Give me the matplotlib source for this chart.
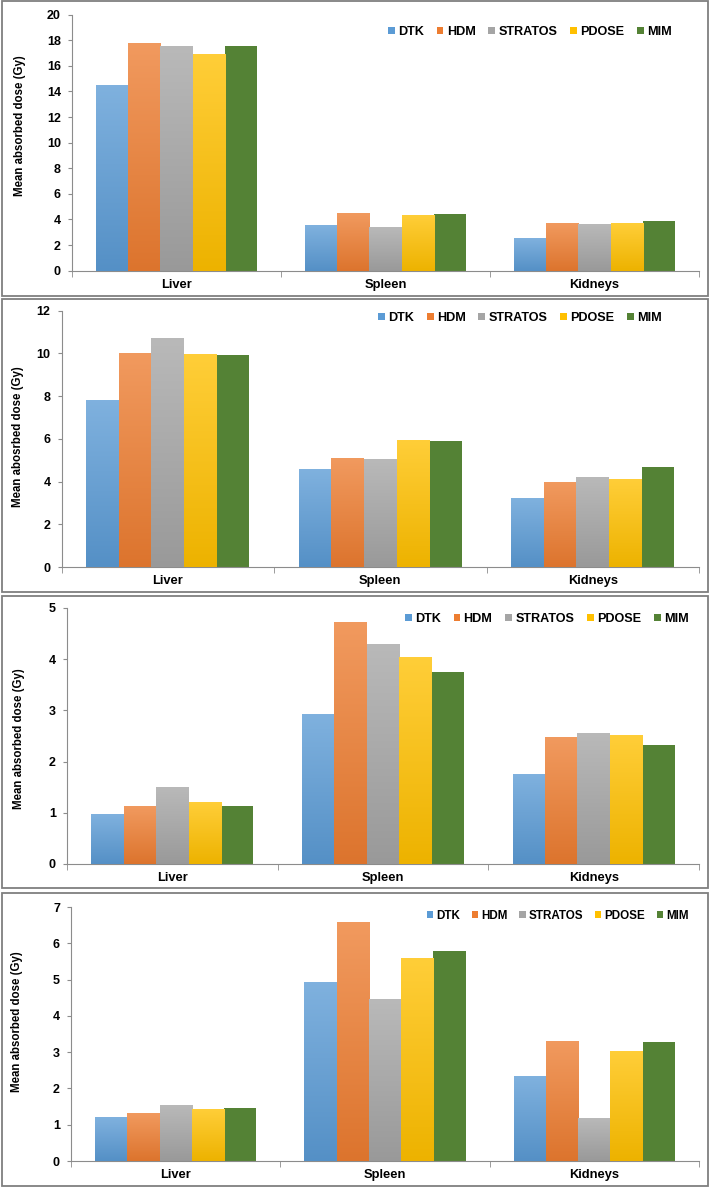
import matplotlib
matplotlib.use("Agg")
import matplotlib.pyplot as plt
import numpy as np
from matplotlib.colors import to_rgb
from matplotlib.patches import Patch, Rectangle

plt.rcParams['font.family'] = ['Liberation Sans', 'DejaVu Sans']
plt.rcParams['font.weight'] = 'bold'

organs = ["Liver", "Spleen", "Kidneys"]
methods = ["DTK", "HDM", "STRATOS", "PDOSE", "MIM"]
colors = ["#5b9bd5", "#ed7d31", "#a5a5a5", "#ffc000", "#548235"]

# valeurs (Gy), une liste par methode
p1_dtk = [14.5, 3.55, 2.55]
p1_hdm = [17.75, 4.48, 3.7]
p1_stratos = [17.52, 3.4, 3.63]
p1_pdose = [16.92, 4.33, 3.7]
p1_mim = [17.52, 4.4, 3.85]

p2_dtk = [7.8, 4.58, 3.23]
p2_hdm = [9.99, 5.08, 3.97]
p2_stratos = [10.69, 5.03, 4.19]
p2_pdose = [9.94, 5.91, 4.11]
p2_mim = [9.94, 5.88, 4.67]

p3_dtk = [0.96, 2.92, 1.75]
p3_hdm = [1.13, 4.72, 2.47]
p3_stratos = [1.49, 4.28, 2.54]
p3_pdose = [1.21, 4.03, 2.51]
p3_mim = [1.13, 3.75, 2.33]

p4_dtk = [1.2, 4.93, 2.33]
p4_hdm = [1.31, 6.58, 3.29]
p4_stratos = [1.53, 4.45, 1.17]
p4_pdose = [1.41, 5.58, 3.01]
p4_mim = [1.45, 5.8, 3.29]

panneaux = [
    {"data": [p1_dtk, p1_hdm, p1_stratos, p1_pdose, p1_mim], "ymax": 20, "step": 2,
     "ylabel": "Mean absorbed dose (Gy)", "legsize": 9.1,
     "box": (72, 699, 14.7, 270.7), "leg": (0.73, 0.932), "lab": (-0.074, 0.565)},
    {"data": [p2_dtk, p2_hdm, p2_stratos, p2_pdose, p2_mim], "ymax": 12, "step": 2,
     "ylabel": "Mean abosrbed dose (Gy)", "legsize": 9.1,
     "box": (61.5, 699, 310.7, 567), "leg": (0.719, 0.971), "lab": (-0.059, 0.51)},
    {"data": [p3_dtk, p3_hdm, p3_stratos, p3_pdose, p3_mim], "ymax": 5, "step": 1,
     "ylabel": "Mean absorbed dose (Gy)", "legsize": 9.1,
     "box": (67, 699, 608, 864), "leg": (0.759, 0.957), "lab": (-0.066, 0.49)},
    {"data": [p4_dtk, p4_hdm, p4_stratos, p4_pdose, p4_mim], "ymax": 7, "step": 1,
     "ylabel": "Mean absorbed dose (Gy)", "legsize": 8.4,
     "box": (71, 699, 907, 1161), "leg": (0.775, 0.965), "lab": (-0.076, 0.547)},
]

# cadres des panneaux (en pixels)
cadres = [(1, 296), (299, 592), (596, 888), (893, 1186)]

W, H = 709, 1189
fig = plt.figure(figsize=(W / 100, H / 100), dpi=100)
fig.patch.set_facecolor("white")

for (y0, y1) in cadres:
    fig.add_artist(Rectangle((1.5 / W, 1 - y1 / H), (W - 3) / W, (y1 - y0) / H,
                             transform=fig.transFigure, fill=False,
                             edgecolor="#7f7f7f", linewidth=1.3))


def degrade(couleur, n=64):
    base = np.array(to_rgb(couleur))
    haut = base + (1 - base) * 0.22
    bas = base * 0.93
    t = np.linspace(0, 1, n)[:, None]
    return (haut * (1 - t) + bas * t)[:, None, :]


largeur = 1 / 6.5
x = np.arange(len(organs))

for p in panneaux:
    l, r, t, b = p["box"]
    ax = fig.add_axes([l / W, 1 - b / H, (r - l) / W, (b - t) / H])
    for i, (m, c) in enumerate(zip(methods, colors)):
        pos = x + (i - 2) * largeur
        bars = ax.bar(pos, p["data"][i], width=largeur, color=c, label=m, zorder=2)
        if m != "MIM":
            for rect in bars:
                bx, bw, bh = rect.get_x(), rect.get_width(), rect.get_height()
                ax.imshow(degrade(c), extent=(bx, bx + bw, 0, bh), aspect="auto",
                          zorder=3, interpolation="bilinear")
    ax.set_xlim(-0.5, 2.5)
    ax.set_ylim(0, p["ymax"])
    ax.set_yticks(np.arange(0, p["ymax"] + 0.01, p["step"]))
    ax.set_xticks(x)
    ax.set_xticklabels(organs, fontsize=9.3, fontweight="bold")
    ax.set_xticks([-0.5, 0.5, 1.5, 2.5], minor=True)
    ax.tick_params(axis="x", which="major", length=0, pad=6)
    ax.tick_params(axis="x", which="minor", length=4, color="#8c8c8c", direction="out")
    ax.tick_params(axis="y", length=3, color="#8c8c8c", labelsize=9, pad=5)
    for lab in ax.get_yticklabels():
        lab.set_fontweight("bold")
    for s in ["top", "right"]:
        ax.spines[s].set_visible(False)
    for s in ["left", "bottom"]:
        ax.spines[s].set_color("#8c8c8c")
        ax.spines[s].set_linewidth(0.8)
    ax.set_ylabel(p["ylabel"], fontsize=8.3, fontweight="bold")
    ax.yaxis.set_label_coords(*p["lab"])
    poignees = [Patch(facecolor=c, edgecolor="none") for c in colors]
    ax.legend(poignees, methods, loc="center", bbox_to_anchor=p["leg"], ncol=5,
              frameon=False, handlelength=0.55, handleheight=0.55,
              handletextpad=0.25, columnspacing=1.0,
              prop={"weight": "bold", "size": p["legsize"]})

fig.savefig("out.png", dpi=100)
plt.close()
